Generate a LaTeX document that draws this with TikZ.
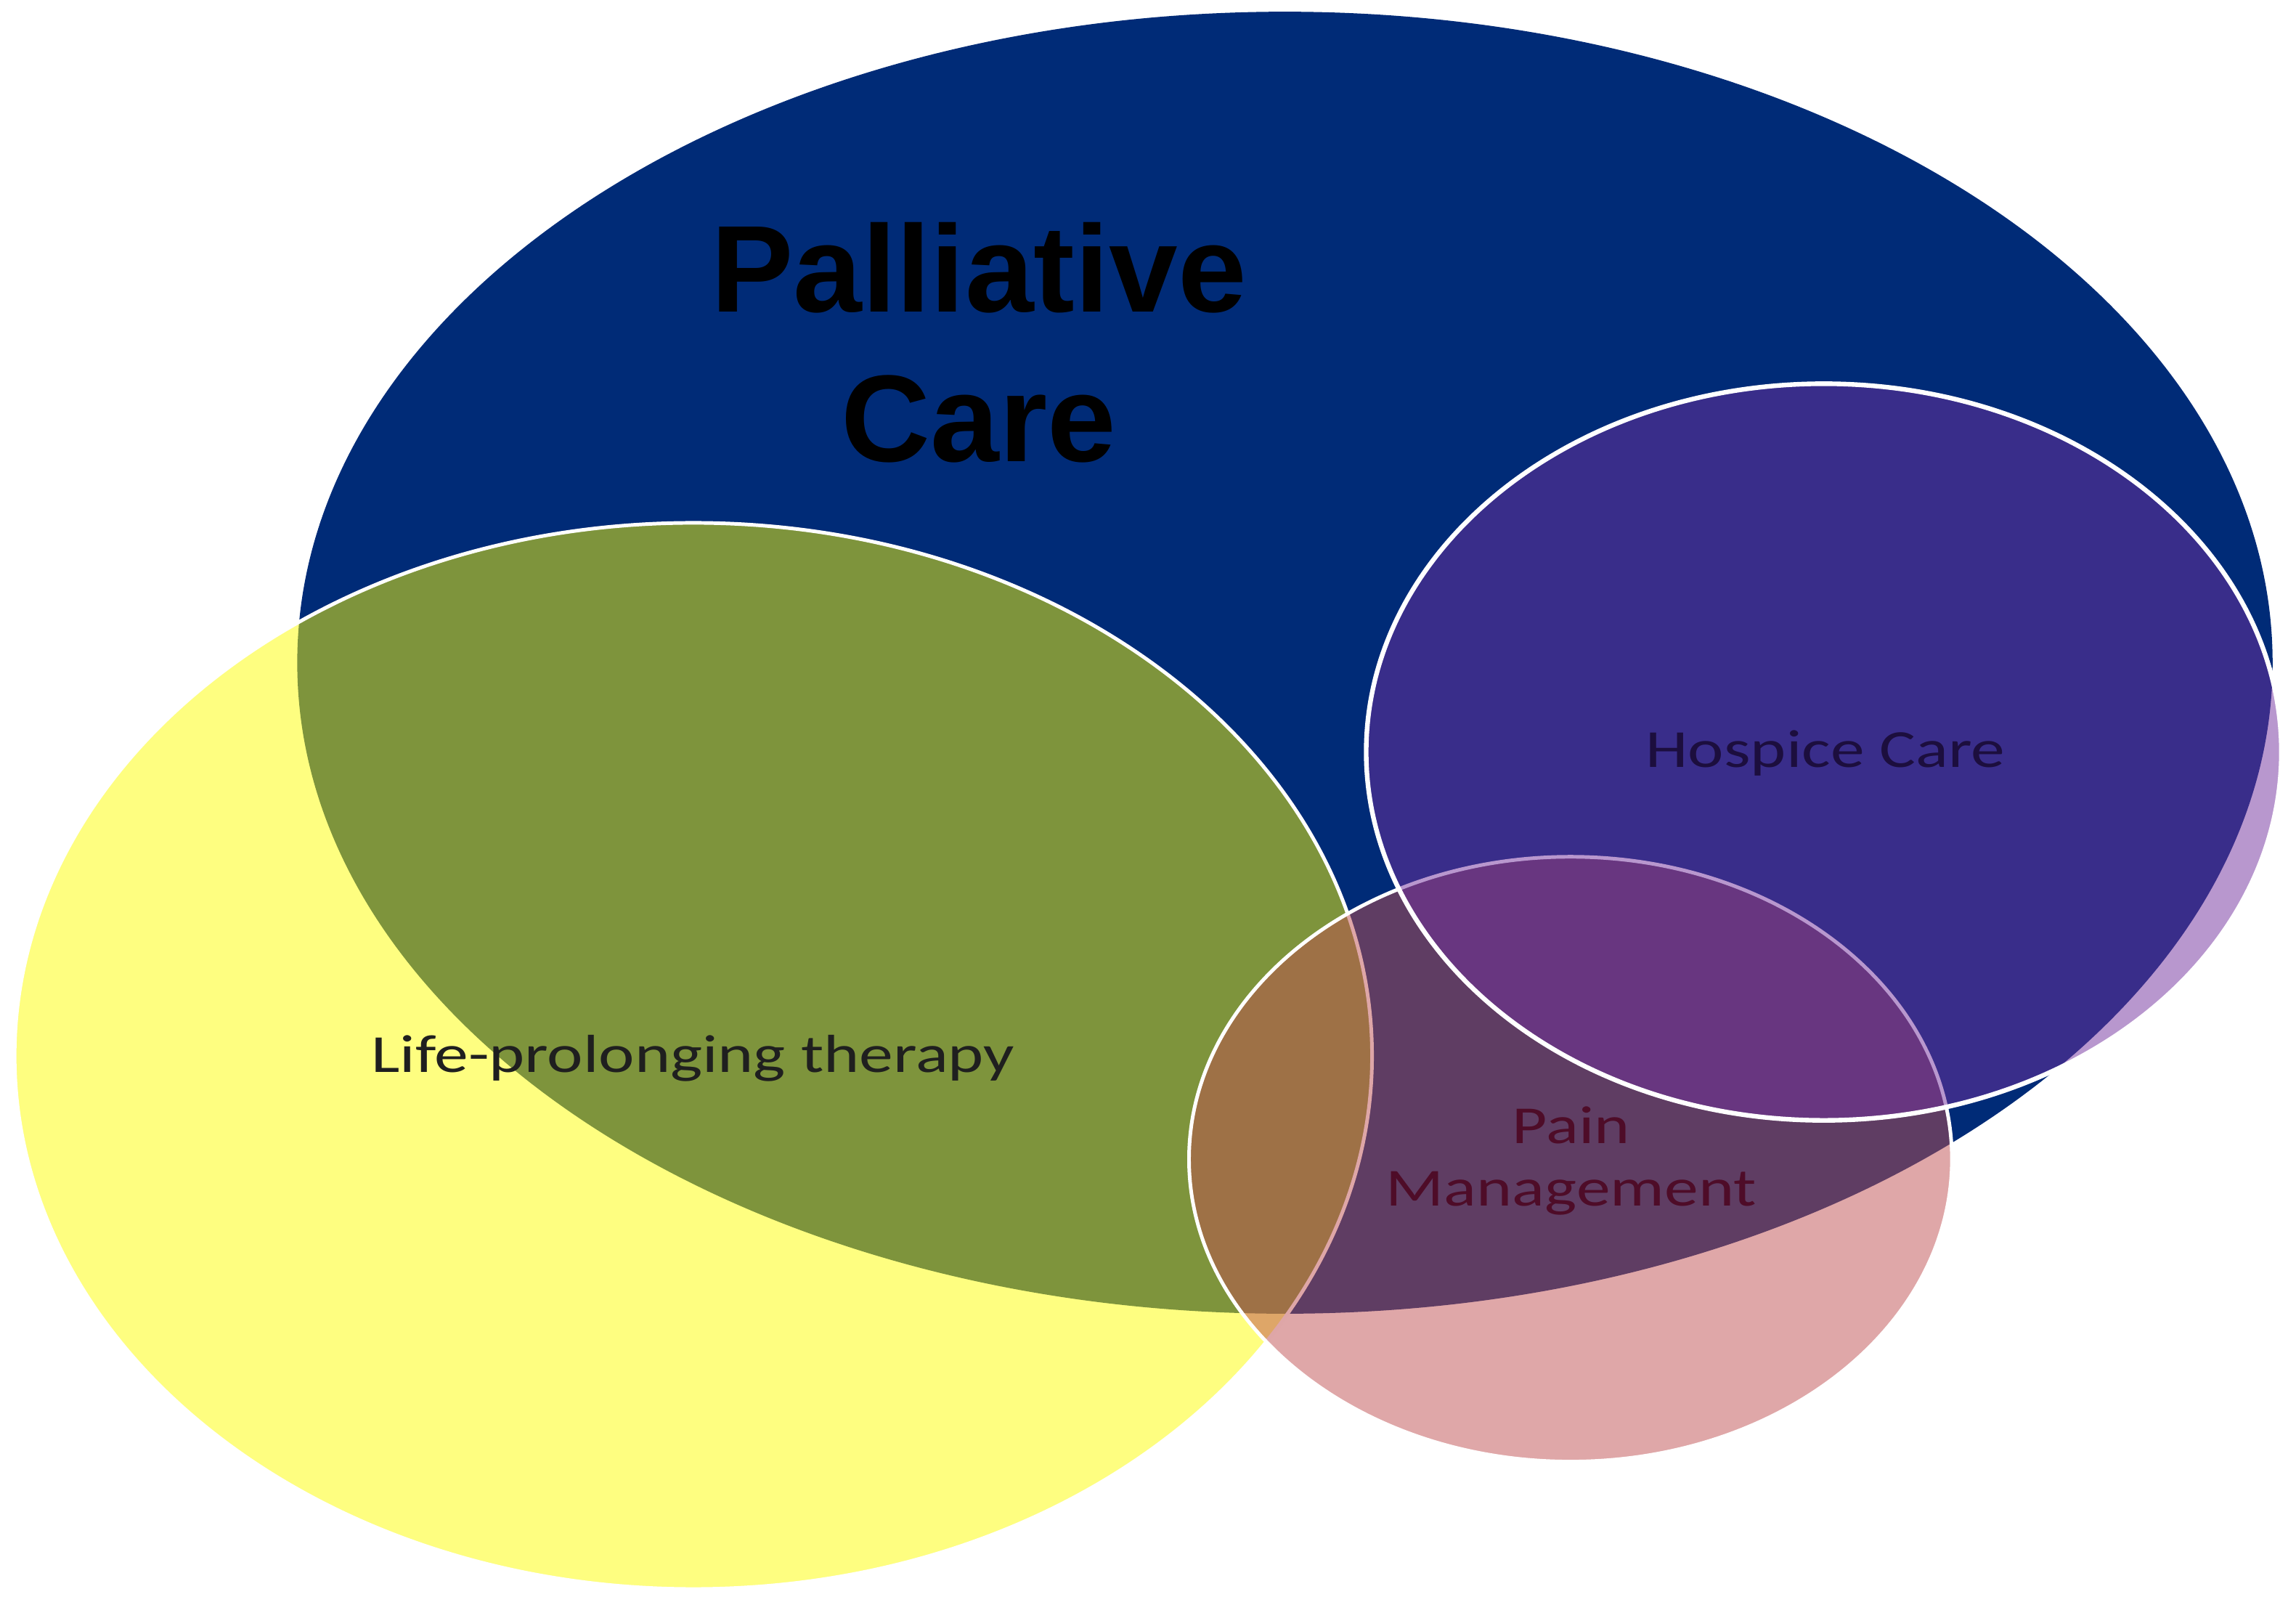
\documentclass[tikz,border=0pt]{standalone}
\usepackage{fontspec}
\usepackage{graphicx}
\usetikzlibrary{shapes.geometric}
\newfontfamily\headfont{Liberation Sans}
\newfontfamily\labelfont{Carlito}
\definecolor{palliativeblue}{HTML}{002B77}
\definecolor{therapyyellow}{HTML}{FDFD02}
\definecolor{painrose}{HTML}{BF4F51}
\definecolor{hospiceviolet}{HTML}{72309E}
\newcommand{\widetext}[1]{\scalebox{1.27}[1]{#1}}

\begin{document}
\begin{tikzpicture}[
  area/.style={ellipse, draw=white, line width=0.7pt, inner sep=0pt, fill opacity=0.5},
  head/.style={font=\headfont\bfseries\fontsize{24}{29}\selectfont, align=center, text=black, anchor=base},
  tag/.style={font=\labelfont\fontsize{10.4}{12.2}\selectfont, align=center, anchor=base, inner sep=0pt}]
\useasboundingbox (0,0) rectangle (15.68,10.90);
% the four overlapping areas, back to front
\node[ellipse, fill=palliativeblue, inner sep=0pt, minimum width=13.49cm, minimum height=8.89cm] (palliative) at (8.775,6.375) {};
\node[area, fill=therapyyellow, minimum width=9.27cm, minimum height=7.28cm] (therapy) at (4.735,3.69) {};
\node[area, fill=painrose, minimum width=5.21cm, minimum height=4.13cm] (pain) at (10.725,2.985) {};
\node[area, line width=0.9pt, fill=hospiceviolet, minimum width=6.25cm, minimum height=5.03cm] (hospice) at (12.455,5.765) {};
% labels (base = baseline of the last line)
\node[head] (palliativelabel) at (6.685,7.75) {Palliative\\Care};
\node[tag, text=black!88] (therapylabel) at (4.732,3.577) {\widetext{Life-prolonging therapy}};
\node[tag, text={rgb,255:red,28;green,14;blue,62}] (hospicelabel) at (12.467,5.661) {\widetext{Hospice Care}};
\node[tag, text={rgb,255:red,78;green,12;blue,40}] (painlabel) at (10.73,2.665) {\widetext{Pain}\\\widetext{Management}};
\end{tikzpicture}
\end{document}
